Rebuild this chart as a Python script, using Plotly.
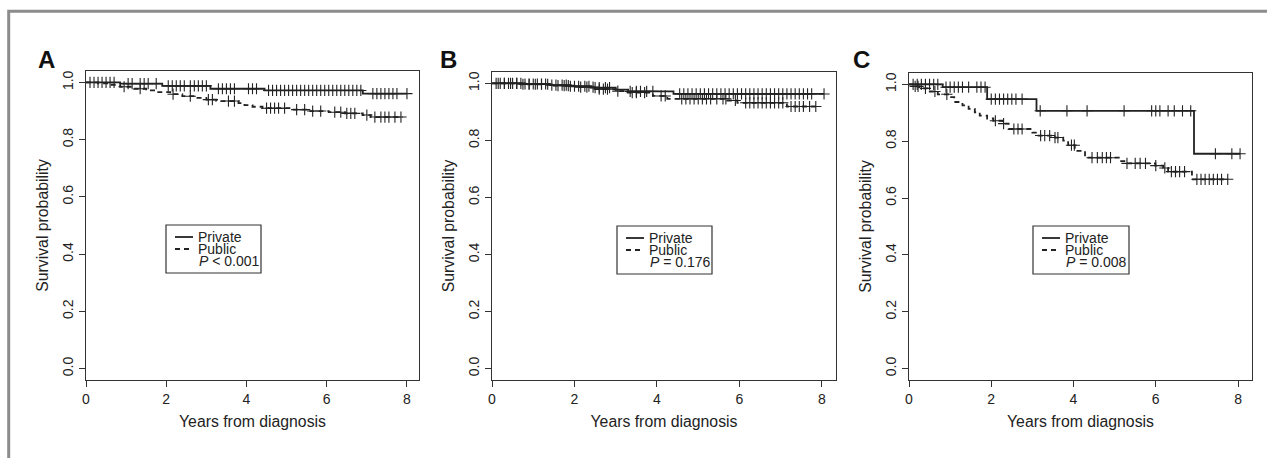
import numpy as np
import plotly.graph_objects as go

W, H = 1267, 458

# ---------------- data ----------------
panel_labels = ["A", "B", "C"]
p_texts = ["<i>P</i> < 0.001", "<i>P</i> = 0.176", "<i>P</i> = 0.008"]
group_names = ["Private", "Public"]
x_ticks = [0, 2, 4, 6, 8]
y_ticks = [0.0, 0.2, 0.4, 0.6, 0.8, 1.0]
y_tick_labels = ["0.0", "0.2", "0.4", "0.6", "0.8", "1.0"]

# Panel A
a_private_t = [0, 0.85, 1.9, 3.1, 4.45, 6.9, 8.0]
a_private_s = [1.0, 0.996, 0.988, 0.978, 0.972, 0.961, 0.961]
a_private_c = [0.1, 0.2, 0.3, 0.4, 0.5, 0.6, 0.7, 1.05, 1.15, 1.35, 1.45, 1.55, 1.75,
               2.05, 2.15, 2.25, 2.35, 2.45, 2.6, 2.7, 2.8, 2.9, 3.0, 3.3, 3.4, 3.5,
               3.6, 3.7, 4.05, 4.15, 4.25, 4.55, 4.65, 4.75, 4.85, 4.95, 5.05, 5.15,
               5.25, 5.35, 5.45, 5.55, 5.65, 5.75, 5.85, 5.95, 6.05, 6.15, 6.25, 6.35,
               6.45, 6.55, 6.65, 6.75, 6.85, 7.15, 7.25, 7.35, 7.45, 7.55, 7.65, 7.75, 8.0]
a_public_t = [0, 0.3, 0.6, 0.85, 1.2, 1.5, 1.8, 2.1, 2.4, 2.75, 3.0, 3.25, 3.8, 3.95,
              4.15, 4.4, 5.1, 5.55, 6.05, 6.45, 6.9, 7.1, 7.9]
a_public_s = [1.0, 0.997, 0.992, 0.985, 0.978, 0.972, 0.966, 0.959, 0.952, 0.946, 0.940,
              0.935, 0.928, 0.921, 0.915, 0.910, 0.905, 0.900, 0.896, 0.892, 0.886,
              0.879, 0.879]
a_public_c = [0.95, 1.35, 2.17, 2.6, 3.05, 3.15, 3.55, 3.7, 4.5, 4.6, 4.7, 4.8, 4.95,
              5.25, 5.45, 5.65, 5.85, 6.2, 6.35, 6.5, 6.6, 6.7, 7.0, 7.2, 7.35, 7.45,
              7.55, 7.7, 7.85]

# Panel B
b_private_t = [0, 0.8, 1.4, 1.9, 2.4, 3.0, 3.3, 4.4, 8.05]
b_private_s = [1.0, 0.998, 0.994, 0.990, 0.985, 0.978, 0.972, 0.963, 0.963]
b_private_c = [0.1, 0.2, 0.3, 0.4, 0.5, 0.6, 0.7, 0.8, 0.9, 1.0, 1.1, 1.2, 1.3, 1.45,
               1.55, 1.7, 1.8, 1.9, 2.0, 2.1, 2.25, 2.35, 2.5, 2.6, 2.75, 2.85, 3.35,
               3.5, 3.6, 3.75, 3.9, 4.55, 4.65, 4.75, 4.85, 4.95, 5.05, 5.15, 5.25,
               5.35, 5.45, 5.55, 5.65, 5.75, 5.85, 5.95, 6.05, 6.15, 6.25, 6.35, 6.45,
               6.55, 6.65, 6.75, 6.85, 6.95, 7.05, 7.15, 7.25, 7.35, 7.45, 7.55, 7.65,
               7.75, 8.05]
b_public_t = [0, 0.7, 1.5, 2.0, 2.5, 3.0, 3.25, 3.9, 4.25, 5.7, 5.95, 7.15, 7.85]
b_public_s = [1.0, 0.997, 0.992, 0.987, 0.980, 0.973, 0.968, 0.956, 0.946, 0.940,
              0.932, 0.919, 0.919]
b_public_c = [0.15, 0.3, 0.45, 0.6, 0.75, 0.9, 1.05, 1.2, 1.35, 1.6, 1.75, 1.85, 2.15,
              2.3, 2.45, 2.6, 2.7, 2.8, 3.05, 3.4, 3.5, 3.7, 4.1, 4.2, 4.6, 4.7, 4.8,
              4.9, 5.0, 5.1, 5.2, 5.3, 5.45, 5.6, 5.67, 5.9, 6.15, 6.25, 6.35, 6.45,
              6.55, 6.65, 6.75, 6.85, 6.95, 7.05, 7.25, 7.35, 7.45, 7.55, 7.7, 7.85]

# Panel C
c_private_t = [0, 0.82, 1.9, 3.1, 6.93, 8.05]
c_private_s = [1.0, 0.990, 0.948, 0.907, 0.756, 0.756]
c_private_c = [0.1, 0.2, 0.3, 0.4, 0.5, 0.6, 0.7, 0.9, 1.0, 1.1, 1.2, 1.3, 1.45, 1.65,
               1.75, 1.85, 2.0, 2.1, 2.2, 2.3, 2.4, 2.5, 2.6, 2.75, 3.19, 3.84, 4.33,
               5.23, 5.9, 6.0, 6.1, 6.3, 6.45, 6.65, 6.85, 7.45, 7.85, 8.05]
c_public_t = [0, 0.1, 0.25, 0.45, 0.7, 0.95, 1.1, 1.3, 1.45, 1.6, 1.72, 1.9, 2.05,
              2.27, 2.42, 3.0, 3.15, 3.55, 3.75, 3.87, 4.03, 4.28, 5.13, 5.3, 5.99,
              6.18, 6.3, 6.88, 7.76]
c_public_s = [1.0, 0.993, 0.986, 0.975, 0.965, 0.955, 0.938, 0.926, 0.914, 0.902,
              0.890, 0.880, 0.872, 0.862, 0.843, 0.830, 0.820, 0.813, 0.802, 0.786,
              0.766, 0.742, 0.730, 0.722, 0.714, 0.706, 0.693, 0.666, 0.666]
c_public_c = [0.15, 0.22, 0.4, 0.63, 0.92, 2.1, 2.3, 2.55, 2.65, 2.75, 3.2, 3.3, 3.42,
              3.55, 3.62, 3.95, 4.02, 4.45, 4.58, 4.7, 4.8, 4.9, 5.3, 5.5, 5.62, 5.75,
              6.0, 6.22, 6.38, 6.48, 6.58, 6.7, 7.0, 7.1, 7.2, 7.3, 7.4, 7.5, 7.6, 7.75]

panels = [
    ((a_private_t, a_private_s, a_private_c), (a_public_t, a_public_s, a_public_c)),
    ((b_private_t, b_private_s, b_private_c), (b_public_t, b_public_s, b_public_c)),
    ((c_private_t, c_private_s, c_private_c), (c_public_t, c_public_s, c_public_c)),
]

# ---------------- layout geometry (pixels) ----------------
boxes = [(86, 419, 71, 380), (492, 836, 72, 380), (909, 1252, 73, 380)]
x_ranges = [[0, 8.3], [0, 8.34], [0, 8.34]]
legend_boxes = [(166, 261, 225, 273), (617, 712, 226, 274), (1033, 1129, 226, 274)]
label_x = [46.5, 448, 861]

def fx(x):
    return x / W

def fy(y):
    return 1 - y / H

INK = "#222222"
FONT = "Liberation Sans, Arial, Helvetica, sans-serif"

def step_value(t, s, c):
    t = np.asarray(t)
    s = np.asarray(s)
    idx = np.searchsorted(t, np.asarray(c), side="right") - 1
    return s[idx]

fig = go.Figure()
layout = dict(
    width=W, height=H, margin=dict(l=0, r=0, t=0, b=0),
    paper_bgcolor="white", plot_bgcolor="white", showlegend=False,
    font=dict(family=FONT, color=INK),
)
shapes = []
annotations = []

for i, (grp_priv, grp_pub) in enumerate(panels):
    sfx = "" if i == 0 else str(i + 1)
    xa, ya = "x" + sfx, "y" + sfx
    for g, (t, s, c) in enumerate((grp_priv, grp_pub)):
        dash = "solid" if g == 0 else "5px,4px"
        fig.add_trace(go.Scatter(
            x=t, y=s, mode="lines", line=dict(shape="hv", color=INK, width=1.8, dash=dash),
            name=group_names[g], xaxis=xa, yaxis=ya, hoverinfo="skip"))
        fig.add_trace(go.Scatter(
            x=c, y=step_value(t, s, c), mode="markers",
            marker=dict(symbol="cross-thin-open", size=8, color=INK,
                        line=dict(color=INK, width=1.1)),
            name=group_names[g] + " censored", xaxis=xa, yaxis=ya, hoverinfo="skip"))

    x0, x1, y0, y1 = boxes[i]
    axis_common = dict(showline=True, mirror=True, linecolor="#333333", linewidth=1.3,
                       ticks="outside", ticklen=6, tickwidth=1.1, tickcolor="#333333",
                       showgrid=False, zeroline=False, automargin=False,
                       tickfont=dict(size=14, family=FONT, color=INK))
    layout["xaxis" + sfx] = dict(
        axis_common, domain=[fx(x0), fx(x1)], range=x_ranges[i], anchor=ya,
        tickvals=x_ticks, ticktext=[str(v) for v in x_ticks],
        title=dict(text="Years from diagnosis", font=dict(size=15.8, family=FONT, color=INK),
                   standoff=9))
    layout["yaxis" + sfx] = dict(
        axis_common, domain=[fy(y1), fy(y0)], range=[-0.04, 1.04], anchor=xa,
        tickvals=y_ticks, ticktext=y_tick_labels, tickangle=-90,
        title=dict(text="Survival probability", font=dict(size=15.8, family=FONT, color=INK),
                   standoff=7))

    # legend box drawn manually (R style)
    lx0, lx1, ly0, ly1 = legend_boxes[i]
    shapes.append(dict(type="rect", xref="paper", yref="paper",
                       x0=fx(lx0), x1=fx(lx1), y0=fy(ly1), y1=fy(ly0),
                       line=dict(color="#333333", width=1.2), fillcolor="white"))
    rows = [ly0 + 12, ly0 + 24, ly0 + 36]
    shapes.append(dict(type="line", xref="paper", yref="paper",
                       x0=fx(lx0 + 9), x1=fx(lx0 + 27), y0=fy(rows[0]), y1=fy(rows[0]),
                       line=dict(color=INK, width=1.8)))
    shapes.append(dict(type="line", xref="paper", yref="paper",
                       x0=fx(lx0 + 9), x1=fx(lx0 + 27), y0=fy(rows[1]), y1=fy(rows[1]),
                       line=dict(color=INK, width=1.8, dash="5px,4px")))
    for txt, ry, off in ((group_names[0], rows[0], 30), (group_names[1], rows[1], 30),
                         (p_texts[i], rows[2], 31)):
        annotations.append(dict(text=txt, xref="paper", yref="paper", x=fx(lx0 + off),
                                y=fy(ry), xanchor="left", yanchor="middle", showarrow=False,
                                font=dict(size=14, family=FONT, color=INK)))
    annotations.append(dict(text="<b>" + panel_labels[i] + "</b>", xref="paper", yref="paper",
                            x=fx(label_x[i]), y=fy(60), xanchor="center", yanchor="middle",
                            showarrow=False, font=dict(size=24, family=FONT, color="#111111")))

# outer grey frame (runs off the right and bottom edges)
shapes.append(dict(type="rect", xref="paper", yref="paper", x0=fx(8.7), x1=fx(1290),
                   y0=fy(480), y1=fy(11.3), line=dict(color="#8c8c8c", width=3),
                   fillcolor="rgba(0,0,0,0)", layer="above"))

layout["shapes"] = shapes
layout["annotations"] = annotations
fig.update_layout(**layout)
fig.write_html("out.html", config={"displayModeBar": False},
               post_script="document.body.style.margin='0';document.body.style.padding='0';")
